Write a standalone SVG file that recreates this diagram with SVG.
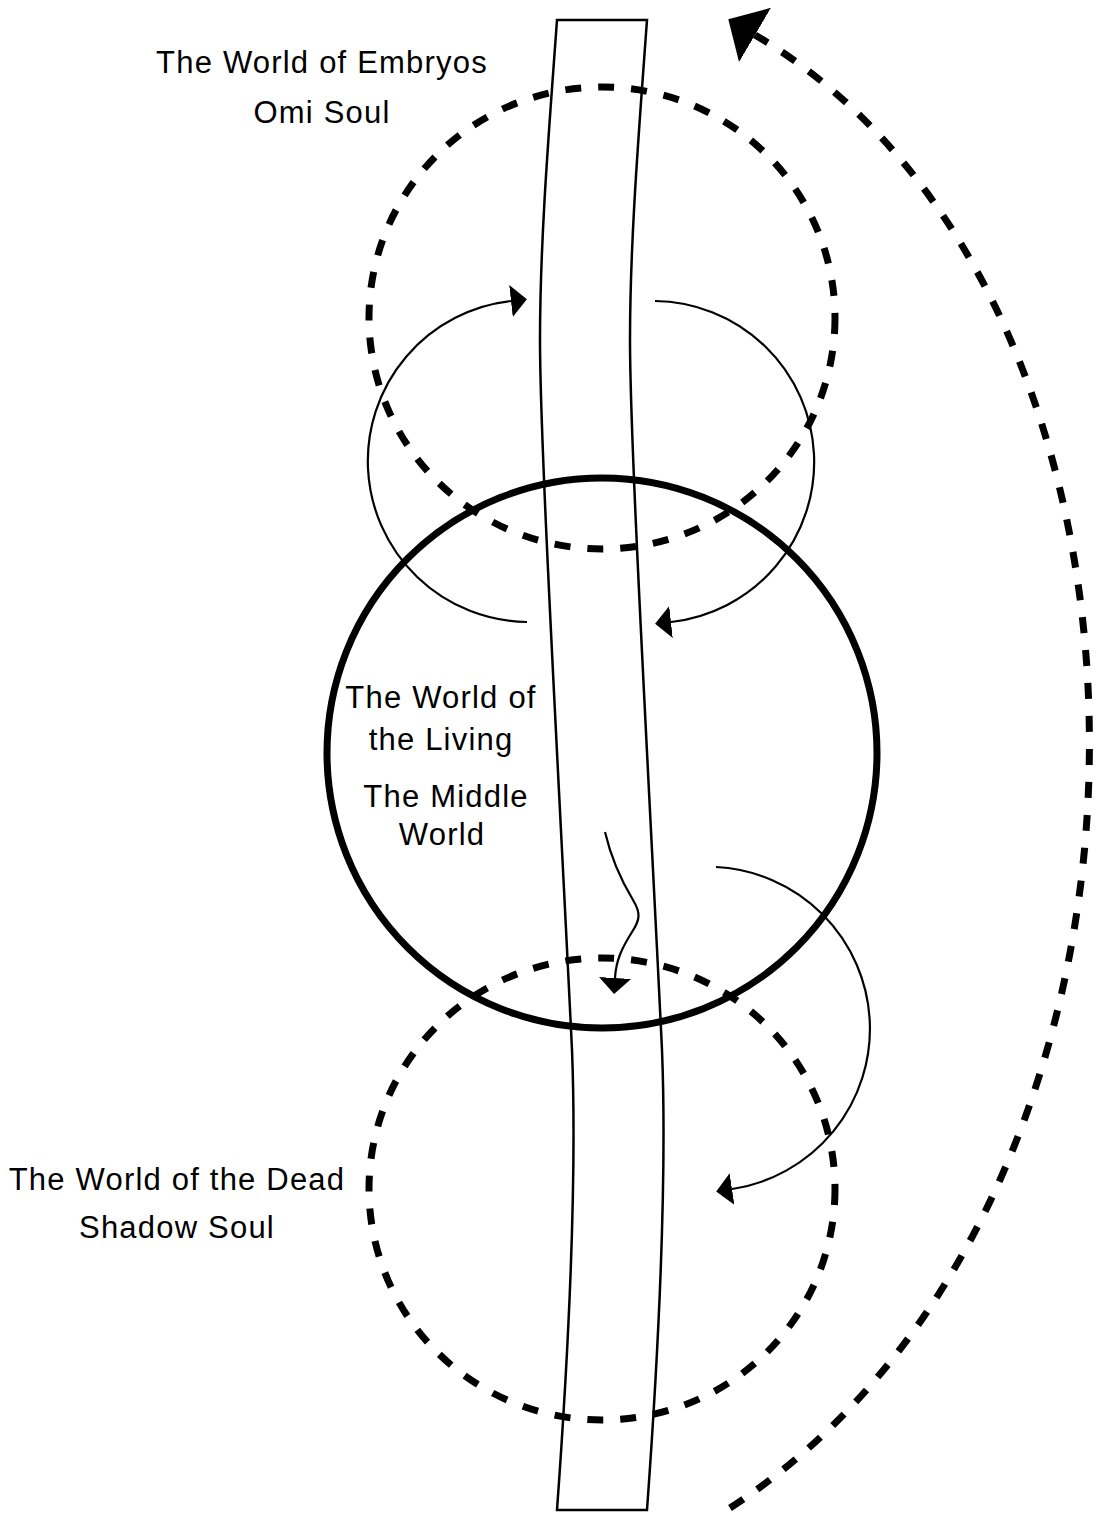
<svg xmlns="http://www.w3.org/2000/svg" width="1105" height="1515" viewBox="0 0 1105 1515">
  <style>
    .lbl { font-family: "Liberation Sans", Arial, sans-serif; font-size: 31px; letter-spacing: 1.2px; fill: #000; text-anchor: middle; }
    .pillar { fill: #fff; stroke: #000; stroke-width: 2.5; }
    .dash { fill: none; stroke: #000; stroke-width: 7; stroke-dasharray: 16 17; }
    .thick { fill: none; stroke: #000; stroke-width: 7; }
    .thin { fill: none; stroke: #000; stroke-width: 2.2; }
  </style>
  <defs>
    <marker id="ah" viewBox="0 0 16 32" refX="0" refY="16" markerWidth="16" markerHeight="32" markerUnits="userSpaceOnUse" orient="auto">
      <path d="M0,0 L16,16 L0,32 Z" fill="#000"/>
    </marker>
    <marker id="big" viewBox="0 0 31 63" refX="0" refY="31.5" markerWidth="31" markerHeight="63" markerUnits="userSpaceOnUse" orient="auto">
      <path d="M0,0 L31,31.5 L0,63 Z" fill="#000"/>
    </marker>
  </defs>

  <g id="world-tree">
    <path class="pillar" d="M557,20 L647,20 C639,130 630,240 630,340 C630,450 650,800 662,1050 C668,1200 655,1400 647,1510 L557,1510 C565,1400 578,1200 572,1050 C560,800 540,450 540,340 C540,240 549,130 557,20 Z"/>
  </g>

  <g id="world-embryos">
    <ellipse class="dash" cx="602" cy="318" rx="233" ry="231"/>
  </g>
  <g id="world-dead">
    <ellipse class="dash" cx="602" cy="1189" rx="233" ry="231"/>
  </g>

  <g id="world-living">
    <circle class="thick" cx="602" cy="753" r="275"/>
  </g>

  <g id="connectors">
    <path class="thin" d="M527,622 A161,161 0 0 1 511,301" marker-end="url(#ah)"/>
    <path class="thin" d="M655,301 A161,161 0 0 1 671,622" marker-end="url(#ah)"/>
    <path class="thin" d="M716,867 A162,162 0 0 1 732,1189" marker-end="url(#ah)"/>
    <path class="thin" d="M605,832 C612,862 624,885 633,900 C641,913 640,920 632,932 C622,948 616,960 615,978" marker-end="url(#ah)"/>
    <path class="dash" d="M730,1508 C1205,1200 1205,300 755,35" marker-end="url(#big)"/>
  </g>

  <g id="labels">
    <text class="lbl" x="322" y="73">The World of Embryos</text>
    <text class="lbl" x="322" y="123">Omi Soul</text>
    <text class="lbl" x="441" y="708">The World of</text>
    <text class="lbl" x="441" y="750">the Living</text>
    <text class="lbl" x="446" y="807">The Middle</text>
    <text class="lbl" x="442" y="845">World</text>
    <text class="lbl" x="177" y="1190">The World of the Dead</text>
    <text class="lbl" x="177" y="1238">Shadow Soul</text>
  </g>
</svg>
